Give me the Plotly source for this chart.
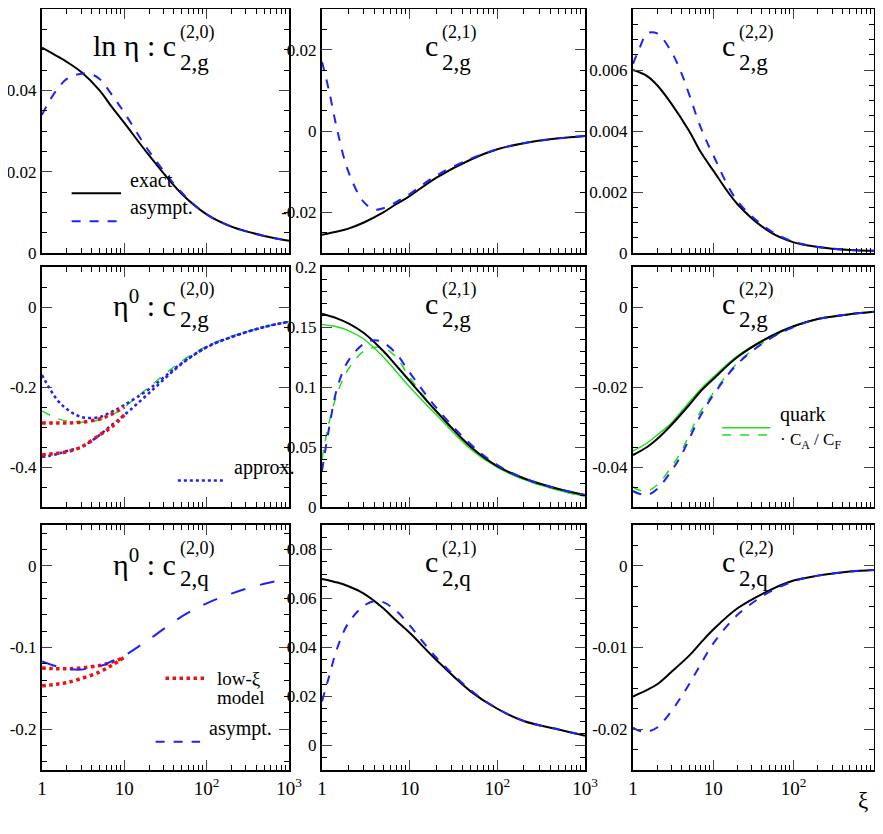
import plotly.graph_objects as go
from plotly.subplots import make_subplots

# ---- data (xi values and curves) ----
xi = [1, 1.5, 2, 3, 5, 7, 10, 20, 50, 100, 200, 500, 1000]
xi_a = [1, 1.2, 1.5, 2, 3, 4, 5, 7, 10, 20, 50, 100, 200, 500, 1000]
xi_low = [1, 1.5, 2, 3, 5, 7, 10]

# row 1: ln eta
r1c1_exact = [0.0505, 0.0485, 0.047, 0.0445, 0.040, 0.036, 0.032, 0.024, 0.0145, 0.0095, 0.0065, 0.0042, 0.003]
r1c1_asym = [0.034, 0.037, 0.040, 0.0428, 0.0441, 0.0439, 0.0428, 0.039, 0.0345, 0.025, 0.0148, 0.0095, 0.0065, 0.0042, 0.003]
r1c2_exact = [-0.0255, -0.0247, -0.024, -0.0225, -0.020, -0.018, -0.016, -0.0115, -0.007, -0.0045, -0.003, -0.0018, -0.0012]
r1c2_asym = [0.017, 0.010, 0.0, -0.010, -0.0175, -0.0193, -0.019, -0.0175, -0.0155, -0.011, -0.0068, -0.0045, -0.003, -0.0018, -0.0012]
r1c3_exact = [0.006, 0.0058, 0.0055, 0.0049, 0.0040, 0.0033, 0.0027, 0.0016, 0.0007, 0.00035, 0.0002, 0.0001, 0.00007]
r1c3_asym = [0.0062, 0.0067, 0.0072, 0.0072, 0.0066, 0.0059, 0.0052, 0.0041, 0.0032, 0.0017, 0.00075, 0.00037, 0.0002, 0.0001, 0.00007]

# row 2: eta^0, gluon
r2c1_appr_hi = [-0.17, -0.23, -0.255, -0.275, -0.275, -0.262, -0.245, -0.205, -0.14, -0.10, -0.075, -0.05, -0.037]
r2c1_appr_lo = [-0.375, -0.368, -0.36, -0.35, -0.32, -0.295, -0.27, -0.215, -0.142, -0.101, -0.075, -0.05, -0.037]
r2c1_green = [-0.26, -0.278, -0.285, -0.288, -0.282, -0.27, -0.25, -0.2, -0.135, -0.098, -0.073, -0.05, -0.036]
r2c1_low_hi = [-0.29, -0.29, -0.29, -0.288, -0.28, -0.268, -0.25]
r2c1_low_lo = [-0.37, -0.366, -0.362, -0.35, -0.32, -0.3, -0.27]
r2c2_exact = [0.161, 0.157, 0.153, 0.145, 0.13, 0.118, 0.105, 0.08, 0.05, 0.034, 0.024, 0.015, 0.01]
r2c2_quark = [0.152, 0.15, 0.147, 0.14, 0.125, 0.113, 0.10, 0.077, 0.048, 0.033, 0.023, 0.014, 0.009]
r2c2_asym = [0.03, 0.065, 0.1, 0.122, 0.136, 0.139, 0.137, 0.128, 0.112, 0.083, 0.052, 0.035, 0.024, 0.015, 0.01]
r2c2_qasym = [0.04, 0.07, 0.095, 0.115, 0.13, 0.133, 0.133, 0.125, 0.108, 0.08, 0.05, 0.034, 0.023, 0.014, 0.009]
r2c3_exact = [-0.037, -0.035, -0.033, -0.0295, -0.0245, -0.021, -0.018, -0.0125, -0.0075, -0.0048, -0.003, -0.0018, -0.0012]
r2c3_quark = [-0.036, -0.034, -0.032, -0.029, -0.0238, -0.0205, -0.0175, -0.0122, -0.0074, -0.0047, -0.003, -0.0018, -0.0012]
r2c3_asym = [-0.046, -0.0467, -0.047, -0.0455, -0.041, -0.037, -0.033, -0.027, -0.022, -0.0142, -0.008, -0.005, -0.003, -0.0018, -0.0012]
r2c3_qasym = [-0.045, -0.0458, -0.046, -0.0445, -0.04, -0.036, -0.032, -0.026, -0.0215, -0.014, -0.0079, -0.005, -0.003, -0.0018, -0.0012]

# row 3: eta^0, quark
r3c1_asym = [-0.117, -0.123, -0.126, -0.127, -0.123, -0.117, -0.11, -0.09, -0.062, -0.046, -0.034, -0.022, -0.016]
r3c1_low_hi = [-0.125, -0.126, -0.126, -0.125, -0.122, -0.118, -0.112]
r3c1_low_lo = [-0.147, -0.145, -0.143, -0.138, -0.13, -0.122, -0.112]
r3c2_exact = [0.068, 0.0665, 0.065, 0.062, 0.056, 0.051, 0.046, 0.035, 0.022, 0.015, 0.01, 0.0065, 0.004]
r3c2_asym = [0.018, 0.028, 0.04, 0.05, 0.057, 0.059, 0.0585, 0.055, 0.049, 0.036, 0.0225, 0.015, 0.01, 0.0065, 0.004]
r3c3_exact = [-0.016, -0.0152, -0.0145, -0.013, -0.011, -0.0094, -0.0078, -0.0052, -0.003, -0.0018, -0.0012, -0.0007, -0.0005]
r3c3_asym = [-0.0198, -0.0202, -0.0203, -0.0198, -0.0178, -0.016, -0.0145, -0.012, -0.0095, -0.006, -0.0032, -0.0019, -0.0012, -0.0007, -0.0005]

# y tick labels per panel
yticks = [[[0, 0.02, 0.04, 0.06], [-0.02, 0, 0.02], [0, 0.002, 0.004, 0.006, 0.008]],
          [[-0.4, -0.2, 0], [0, 0.05, 0.1, 0.15, 0.2], [-0.04, -0.02, 0]],
          [[-0.2, -0.1, 0], [0, 0.02, 0.04, 0.06, 0.08], [-0.02, -0.01, 0]]]
yminor = [[0.005, 0.005, 0.0005], [0.05, 0.01, 0.005], [0.02, 0.005, 0.0025]]
yranges = [[(0, 0.06), (-0.03, 0.03), (0, 0.008)],
           [(-0.5, 0.1), (0, 0.2), (-0.05, 0.01)],
           [(-0.25, 0.05), (-0.01, 0.09), (-0.025, 0.005)]]

OFF = 8  # page body margin
W, H = 883 - 2 * OFF, 834 - 2 * OFF
FONT = "Liberation Serif"
BLACK, BLUE, GREEN, RED = "black", "#2222ee", "#22dd22", "#ee1111"

fig = make_subplots(rows=3, cols=3)


def line(x, y, r, c, color, dash="solid", width=2):
    fig.add_trace(go.Scatter(x=x, y=y, mode="lines", showlegend=False,
                             line=dict(color=color, dash=dash, width=width, shape="spline")),
                  row=r, col=c)


def refs(n):
    s = "" if n == 1 else str(n)
    return f"x{s} domain", f"y{s} domain"


line(xi, r1c1_exact, 1, 1, BLACK)
line(xi_a, r1c1_asym, 1, 1, BLUE, "dash")
line(xi, r1c2_exact, 1, 2, BLACK)
line(xi_a, r1c2_asym, 1, 2, BLUE, "dash")
line(xi, r1c3_exact, 1, 3, BLACK)
line(xi_a, r1c3_asym, 1, 3, BLUE, "dash")

line(xi, r2c1_green, 2, 1, GREEN, "dash", 1.5)
line(xi, r2c1_appr_hi, 2, 1, BLUE, "dot", 2.5)
line(xi, r2c1_appr_lo, 2, 1, BLUE, "dot", 2.5)
line(xi_low, r2c1_low_hi, 2, 1, RED, "dot", 3.5)
line(xi_low, r2c1_low_lo, 2, 1, RED, "dot", 3.5)
line(xi, r2c2_quark, 2, 2, GREEN, "solid", 1.5)
line(xi_a, r2c2_qasym, 2, 2, GREEN, "dash", 1.5)
line(xi, r2c2_exact, 2, 2, BLACK)
line(xi_a, r2c2_asym, 2, 2, BLUE, "dash")
line(xi, r2c3_quark, 2, 3, GREEN, "solid", 1.5)
line(xi_a, r2c3_qasym, 2, 3, GREEN, "dash", 1.5)
line(xi, r2c3_exact, 2, 3, BLACK)
line(xi_a, r2c3_asym, 2, 3, BLUE, "dash")

line(xi_low, r3c1_low_hi, 3, 1, RED, "dot", 3.5)
line(xi_low, r3c1_low_lo, 3, 1, RED, "dot", 3.5)
line(xi, r3c1_asym, 3, 1, BLUE, "longdash")
line(xi, r3c2_exact, 3, 2, BLACK)
line(xi_a, r3c2_asym, 3, 2, BLUE, "dash")
line(xi, r3c3_exact, 3, 3, BLACK)
line(xi_a, r3c3_asym, 3, 3, BLUE, "dash")

# panel geometry in pixels (reference coordinates)
xdom = [(42, 289), (322, 585), (633, 874)]
ydom = [(9, 253), (267, 507), (525, 770)]
x_minor = [m * 10 ** e for e in range(3) for m in range(2, 10)]

for r in range(3):
    for c in range(3):
        x0, x1 = xdom[c]
        y0, y1 = ydom[r]
        lo, hi = yranges[r][c]
        tv = yticks[r][c]
        fig.update_xaxes(type="log", range=[0, 3], domain=[(x0 - OFF) / W, min(1, (x1 - OFF) / W)],
                         tickvals=[1, 10, 100, 1000],
                         ticktext=["1", "10", "10<sup>2</sup>", "10<sup>3</sup>"],
                         showticklabels=(r == 2), ticks="inside", ticklen=10,
                         minor=dict(tickvals=x_minor, ticks="inside", ticklen=5, tickcolor="black"),
                         showline=True, linecolor="black", linewidth=2, mirror="allticks",
                         showgrid=False, zeroline=False, tickfont=dict(size=19),
                         automargin=False, row=r + 1, col=c + 1)
        fig.update_yaxes(range=[lo, hi], domain=[1 - (y1 - OFF) / H, 1 - (y0 - OFF) / H],
                         tickvals=tv, ticktext=["%g" % v for v in tv],
                         ticks="inside", ticklen=10,
                         minor=dict(dtick=yminor[r][c], tick0=0, ticks="inside", ticklen=5, tickcolor="black"),
                         showline=True, linecolor="black", linewidth=2, mirror="allticks",
                         showgrid=False, zeroline=False, tickfont=dict(size=17),
                         automargin=False, row=r + 1, col=c + 1)

# panel labels: main text, subscript, superscript
labels = [
    [("ln η : c", "2,g", "(2,0)"), ("c", "2,g", "(2,1)"), ("c", "2,g", "(2,2)")],
    [("η<sup>0</sup> : c", "2,g", "(2,0)"), ("c", "2,g", "(2,1)"), ("c", "2,g", "(2,2)")],
    [("η<sup>0</sup> : c", "2,q", "(2,0)"), ("c", "2,q", "(2,1)"), ("c", "2,q", "(2,2)")],
]
label_x = [[0.55, 0.45, 0.43], [0.55, 0.45, 0.43], [0.55, 0.45, 0.43]]
for r in range(3):
    for c in range(3):
        xr, yr = refs(r * 3 + c + 1)
        main, sub, sup = labels[r][c]
        lx = label_x[r][c]
        fig.add_annotation(text=main, xref=xr, yref=yr, x=lx, y=0.85, showarrow=False,
                           xanchor="right", yanchor="middle",
                           font=dict(size=30, family=FONT, color="black"))
        fig.add_annotation(text=sup, xref=xr, yref=yr, x=lx, y=0.905, showarrow=False,
                           xanchor="left", yanchor="middle",
                           font=dict(size=18, family=FONT, color="black"))
        fig.add_annotation(text=sub, xref=xr, yref=yr, x=lx, y=0.78, showarrow=False,
                           xanchor="left", yanchor="middle",
                           font=dict(size=23, family=FONT, color="black"))


def legend_item(n, y, text, color, dash, width=2, x0=0.1, x1=0.3, size=20):
    xr, yr = refs(n)
    fig.add_shape(type="line", xref=xr, yref=yr,
                  x0=x0, x1=x1, y0=y, y1=y, line=dict(color=color, dash=dash, width=width))
    if text:
        fig.add_annotation(text=text, xref=xr, yref=yr,
                           x=x1 + 0.03, y=y, showarrow=False, xanchor="left",
                           font=dict(size=size, family=FONT, color="black"))


legend_item(1, 0.245, "exact", BLACK, "solid", 2, 0.12, 0.32)
legend_item(1, 0.13, "asympt.", BLUE, "dash", 2, 0.12, 0.32)
legend_item(4, 0.11, "approx.", BLUE, "dot", 2.5, 0.55, 0.74)
legend_item(7, 0.375, "low-ξ", RED, "dot", 3.5, 0.5, 0.67, 19)
fig.add_annotation(text="model", xref="x7 domain", yref="y7 domain", x=0.7, y=0.245,
                   showarrow=False, xanchor="left", font=dict(size=19, family=FONT, color="black"))
legend_item(7, 0.115, "asympt.", BLUE, "dash", 2, 0.46, 0.64)
legend_item(6, 0.33, "quark", GREEN, "solid", 1.5, 0.37, 0.57)
legend_item(6, 0.30, None, GREEN, "dash", 1.5, 0.37, 0.57)
fig.add_annotation(text="· C<sub>A</sub> / C<sub>F</sub>", xref="x6 domain", yref="y6 domain",
                   x=0.6, y=0.22, showarrow=False, xanchor="left",
                   font=dict(size=17, family=FONT, color="black"))
fig.add_annotation(text="ξ", xref="paper", yref="paper", x=(870 - OFF) / W, y=1 - (815 - OFF) / H,
                   showarrow=False, font=dict(size=23, family=FONT, color="black"))

fig.update_layout(width=W, height=H, margin=dict(l=0, r=0, t=0, b=0),
                  plot_bgcolor="white", paper_bgcolor="white",
                  font=dict(family=FONT, color="black"))

fig.write_html("out.html")
